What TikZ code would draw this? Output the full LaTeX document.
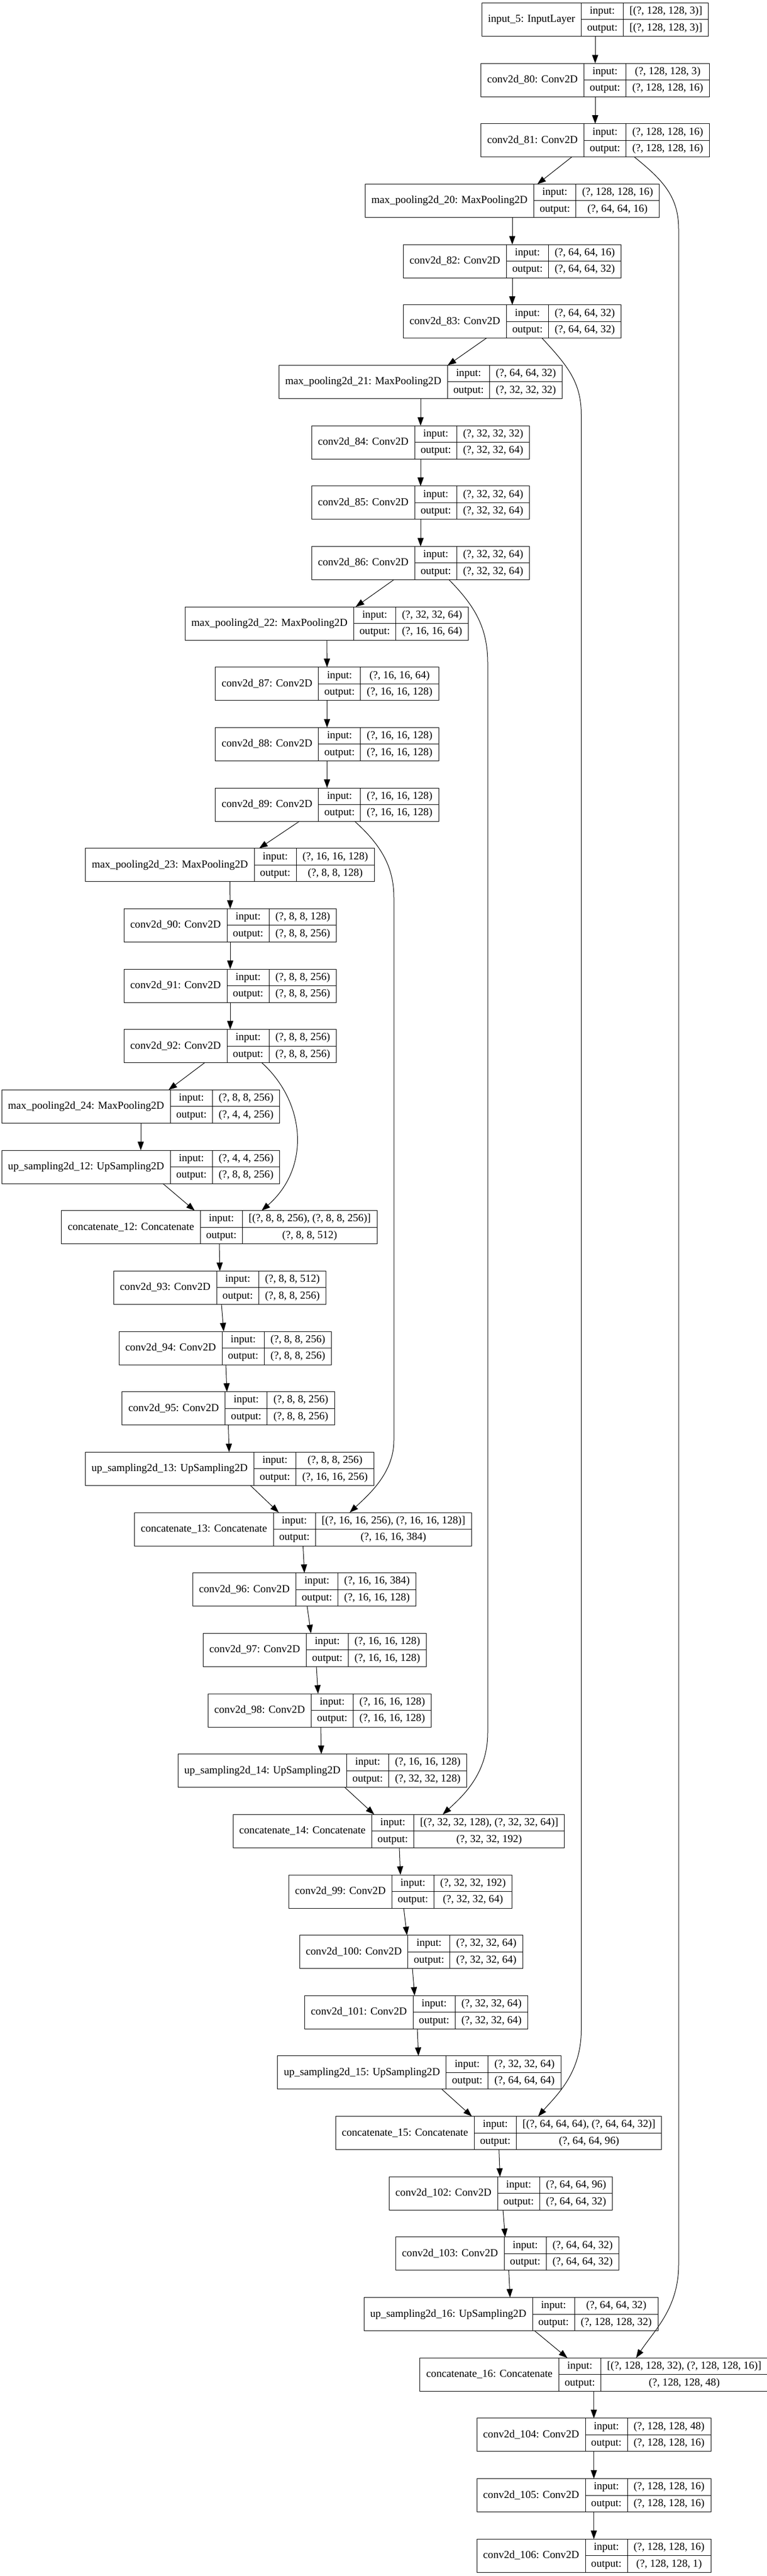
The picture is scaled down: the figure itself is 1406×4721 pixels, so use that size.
\documentclass[tikz,border=0pt]{standalone}
\usepackage{fontspec}
\setmainfont{Liberation Serif}
\usetikzlibrary{arrows.meta,calc,fit}

\newcommand{\layerfont}{\fontsize{9.83pt}{11pt}\selectfont}
\newlength{\wname}
\newlength{\wlab}
\newlength{\wval}
\newlength{\wtmp}
\newlength{\cellpad}
\setlength{\cellpad}{11.5pt}
\setlength{\wlab}{38.5pt}

\tikzset{
  cell/.style={draw, line width=0.5pt, inner sep=0pt, outer sep=0pt,
    font=\layerfont, text height=7pt, text depth=2pt, minimum height=15.25pt},
  namecell/.style={cell, minimum height=30.5pt},
  edge/.style={line width=0.5pt, -{Triangle[length=7.8pt,width=5.6pt]}}
}

% one layer box: node name, centre x, rank, layer text, input shape, output shape
\newcommand{\layer}[6]{%
  \pgfinterruptpicture
    \settowidth{\wtmp}{\layerfont #4}\global\wname=\wtmp
    \settowidth{\wtmp}{\layerfont #5}\global\wval=\wtmp
    \settowidth{\wtmp}{\layerfont #6}\ifdim\wtmp>\wval\global\wval=\wtmp\fi
  \endpgfinterruptpicture
  \addtolength{\wname}{\cellpad}\addtolength{\wval}{\cellpad}%
  \setlength{\wtmp}{\wname}\addtolength{\wtmp}{\wlab}\addtolength{\wtmp}{\wval}%
  \setlength{\wtmp}{-0.5\wtmp}%
  \node[namecell, minimum width=\wname, anchor=west] (#1-n) at ([xshift=\wtmp]#2,{36+110.66*#3}) {#4};
  \node[cell, minimum width=\wlab, anchor=north west] (#1-li) at (#1-n.north east) {input:};
  \node[cell, minimum width=\wlab, anchor=north west] (#1-lo) at (#1-li.south west) {output:};
  \node[cell, minimum width=\wval, anchor=north west] (#1-vi) at (#1-li.north east) {#5};
  \node[cell, minimum width=\wval, anchor=north west] (#1-vo) at (#1-vi.south west) {#6};
  \node[fit=(#1-n)(#1-vo), inner sep=0pt, outer sep=0pt] (#1) {};
}

\begin{document}
\begin{tikzpicture}[x=0.5pt, y=-0.5pt]
\useasboundingbox (0,0) rectangle (1406,4721);

% encoder
\layer{in}{1091}{0}{input\_5: InputLayer}{[(?, 128, 128, 3)]}{[(?, 128, 128, 3)]}
\layer{c80}{1091}{1}{conv2d\_80: Conv2D}{(?, 128, 128, 3)}{(?, 128, 128, 16)}
\layer{c81}{1091}{2}{conv2d\_81: Conv2D}{(?, 128, 128, 16)}{(?, 128, 128, 16)}
\layer{mp20}{939}{3}{max\_pooling2d\_20: MaxPooling2D}{(?, 128, 128, 16)}{(?, 64, 64, 16)}
\layer{c82}{939}{4}{conv2d\_82: Conv2D}{(?, 64, 64, 16)}{(?, 64, 64, 32)}
\layer{c83}{939}{5}{conv2d\_83: Conv2D}{(?, 64, 64, 32)}{(?, 64, 64, 32)}
\layer{mp21}{771}{6}{max\_pooling2d\_21: MaxPooling2D}{(?, 64, 64, 32)}{(?, 32, 32, 32)}
\layer{c84}{771}{7}{conv2d\_84: Conv2D}{(?, 32, 32, 32)}{(?, 32, 32, 64)}
\layer{c85}{771}{8}{conv2d\_85: Conv2D}{(?, 32, 32, 64)}{(?, 32, 32, 64)}
\layer{c86}{771}{9}{conv2d\_86: Conv2D}{(?, 32, 32, 64)}{(?, 32, 32, 64)}
\layer{mp22}{599}{10}{max\_pooling2d\_22: MaxPooling2D}{(?, 32, 32, 64)}{(?, 16, 16, 64)}
\layer{c87}{599.5}{11}{conv2d\_87: Conv2D}{(?, 16, 16, 64)}{(?, 16, 16, 128)}
\layer{c88}{599.5}{12}{conv2d\_88: Conv2D}{(?, 16, 16, 128)}{(?, 16, 16, 128)}
\layer{c89}{599.5}{13}{conv2d\_89: Conv2D}{(?, 16, 16, 128)}{(?, 16, 16, 128)}
\layer{mp23}{421.5}{14}{max\_pooling2d\_23: MaxPooling2D}{(?, 16, 16, 128)}{(?, 8, 8, 128)}
\layer{c90}{422}{15}{conv2d\_90: Conv2D}{(?, 8, 8, 128)}{(?, 8, 8, 256)}
\layer{c91}{422}{16}{conv2d\_91: Conv2D}{(?, 8, 8, 256)}{(?, 8, 8, 256)}
\layer{c92}{422}{17}{conv2d\_92: Conv2D}{(?, 8, 8, 256)}{(?, 8, 8, 256)}
\layer{mp24}{258}{18}{max\_pooling2d\_24: MaxPooling2D}{(?, 8, 8, 256)}{(?, 4, 4, 256)}
% decoder
\layer{up12}{258}{19}{up\_sampling2d\_12: UpSampling2D}{(?, 4, 4, 256)}{(?, 8, 8, 256)}
\layer{cat12}{402}{20}{concatenate\_12: Concatenate}{[(?, 8, 8, 256), (?, 8, 8, 256)]}{(?, 8, 8, 512)}
\layer{c93}{403}{21}{conv2d\_93: Conv2D}{(?, 8, 8, 512)}{(?, 8, 8, 256)}
\layer{c94}{413}{22}{conv2d\_94: Conv2D}{(?, 8, 8, 256)}{(?, 8, 8, 256)}
\layer{c95}{418.5}{23}{conv2d\_95: Conv2D}{(?, 8, 8, 256)}{(?, 8, 8, 256)}
\layer{up13}{421}{24}{up\_sampling2d\_13: UpSampling2D}{(?, 8, 8, 256)}{(?, 16, 16, 256)}
\layer{cat13}{555.5}{25}{concatenate\_13: Concatenate}{[(?, 16, 16, 256), (?, 16, 16, 128)]}{(?, 16, 16, 384)}
\layer{c96}{558}{26}{conv2d\_96: Conv2D}{(?, 16, 16, 384)}{(?, 16, 16, 128)}
\layer{c97}{577}{27}{conv2d\_97: Conv2D}{(?, 16, 16, 128)}{(?, 16, 16, 128)}
\layer{c98}{586}{28}{conv2d\_98: Conv2D}{(?, 16, 16, 128)}{(?, 16, 16, 128)}
\layer{up14}{591}{29}{up\_sampling2d\_14: UpSampling2D}{(?, 16, 16, 128)}{(?, 32, 32, 128)}
\layer{cat14}{731}{30}{concatenate\_14: Concatenate}{[(?, 32, 32, 128), (?, 32, 32, 64)]}{(?, 32, 32, 192)}
\layer{c99}{734}{31}{conv2d\_99: Conv2D}{(?, 32, 32, 192)}{(?, 32, 32, 64)}
\layer{c100}{753.7}{32}{conv2d\_100: Conv2D}{(?, 32, 32, 64)}{(?, 32, 32, 64)}
\layer{c101}{763}{33}{conv2d\_101: Conv2D}{(?, 32, 32, 64)}{(?, 32, 32, 64)}
\layer{up15}{768.5}{34}{up\_sampling2d\_15: UpSampling2D}{(?, 32, 32, 64)}{(?, 64, 64, 64)}
\layer{cat15}{914}{35}{concatenate\_15: Concatenate}{[(?, 64, 64, 64), (?, 64, 64, 32)]}{(?, 64, 64, 96)}
\layer{c102}{918}{36}{conv2d\_102: Conv2D}{(?, 64, 64, 96)}{(?, 64, 64, 32)}
\layer{c103}{930}{37}{conv2d\_103: Conv2D}{(?, 64, 64, 32)}{(?, 64, 64, 32)}
\layer{up16}{936.6}{38}{up\_sampling2d\_16: UpSampling2D}{(?, 64, 64, 32)}{(?, 128, 128, 32)}
\layer{cat16}{1088.6}{39}{concatenate\_16: Concatenate}{[(?, 128, 128, 32), (?, 128, 128, 16)]}{(?, 128, 128, 48)}
\layer{c104}{1088.6}{40}{conv2d\_104: Conv2D}{(?, 128, 128, 48)}{(?, 128, 128, 16)}
\layer{c105}{1088.6}{41}{conv2d\_105: Conv2D}{(?, 128, 128, 16)}{(?, 128, 128, 16)}
\layer{c106}{1088.6}{42}{conv2d\_106: Conv2D}{(?, 128, 128, 16)}{(?, 128, 128, 1)}

% main chain
\draw[edge] (in.south) -- (c80.north);
\draw[edge] (c80.south) -- (c81.north);
\draw[edge] ($(c81.south)+(-43,0)$) -- ($(mp20.north)+(46,0)$);
\draw[edge] (mp20.south) -- (c82.north);
\draw[edge] (c82.south) -- (c83.north);
\draw[edge] ($(c83.south)+(-47.5,0)$) -- ($(mp21.north)+(49.6,0)$);
\draw[edge] (mp21.south) -- (c84.north);
\draw[edge] (c84.south) -- (c85.north);
\draw[edge] (c85.south) -- (c86.north);
\draw[edge] ($(c86.south)+(-49,0)$) -- ($(mp22.north)+(53,0)$);
\draw[edge] (mp22.south) -- (c87.north);
\draw[edge] (c87.south) -- (c88.north);
\draw[edge] (c88.south) -- (c89.north);
\draw[edge] ($(c89.south)+(-50.5,0)$) -- ($(mp23.north)+(53.5,0)$);
\draw[edge] (mp23.south) -- (c90.north);
\draw[edge] (c90.south) -- (c91.north);
\draw[edge] (c91.south) -- (c92.north);
\draw[edge] ($(c92.south)+(-47,0)$) -- ($(mp24.north)+(51,0)$);
\draw[edge] (mp24.south) -- (up12.north);
\draw[edge] ($(up12.south)+(40.5,0)$) -- ($(cat12.north)+(-45,0)$);
\draw[edge] (cat12.south) -- (c93.north);
\draw[edge] ($(c93.south)+(3,0)$) -- ($(c94.north)+(-3,0)$);
\draw[edge] ($(c94.south)+(1,0)$) -- ($(c95.north)+(-2.5,0)$);
\draw[edge] (c95.south) -- ($(up13.north)+(-1,0)$);
\draw[edge] ($(up13.south)+(38,0)$) -- ($(cat13.north)+(-44.5,0)$);
\draw[edge] (cat13.south) -- (c96.north);
\draw[edge] ($(c96.south)+(5,0)$) -- ($(c97.north)+(-7,0)$);
\draw[edge] ($(c97.south)+(3,0)$) -- ($(c98.north)+(-3,0)$);
\draw[edge] ($(c98.south)+(2,0)$) -- ($(up14.north)+(-2,0)$);
\draw[edge] ($(up14.south)+(41,0)$) -- ($(cat14.north)+(-45,0)$);
\draw[edge] ($(cat14.south)+(1,0)$) -- (c99.north);
\draw[edge] ($(c99.south)+(6,0)$) -- ($(c100.north)+(-7.7,0)$);
\draw[edge] ($(c100.south)+(2.3,0)$) -- ($(c101.north)+(-3,0)$);
\draw[edge] ($(c101.south)+(2,0)$) -- ($(up15.north)+(-1.5,0)$);
\draw[edge] ($(up15.south)+(41.5,0)$) -- ($(cat15.north)+(-49,0)$);
\draw[edge] ($(cat15.south)+(0.7,0)$) -- ($(c102.north)+(-1.5,0)$);
\draw[edge] ($(c102.south)+(4,0)$) -- ($(c103.north)+(-4,0)$);
\draw[edge] ($(c103.south)+(2.6,0)$) -- ($(up16.north)+(-1.6,0)$);
\draw[edge] ($(up16.south)+(43.4,0)$) -- ($(cat16.north)+(-48.6,0)$);
\draw[edge] (cat16.south) -- (c104.north);
\draw[edge] (c104.south) -- (c105.north);
\draw[edge] (c105.south) -- (c106.north);

% skip connections
\draw[edge] ($(c81.south)+(72,0)$) .. controls (1215,330) and (1244,360) .. (1244,420)
  -- (1244,4150) .. controls (1244,4230) and (1200,4270) .. ($(cat16.north)+(77.4,0)$);
\draw[edge] ($(c83.south)+(54.7,0)$) .. controls (1040,670) and (1065.5,700) .. (1065.5,760)
  -- (1065.5,3720) .. controls (1065.5,3800) and (1020,3840) .. ($(cat15.north)+(72.5,0)$);
\draw[edge] ($(c86.south)+(52,0)$) .. controls (870,1110) and (894,1150) .. (894,1215)
  -- (894,3175) .. controls (894,3250) and (850,3290) .. ($(cat14.north)+(80.6,0)$);
\draw[edge] ($(c89.south)+(50.5,0)$) .. controls (700,1550) and (722,1590) .. (722,1645)
  -- (722,2640) .. controls (722,2700) and (675,2740) .. ($(cat13.north)+(85.5,0)$);
\draw[edge] ($(c92.south)+(58,0)$) .. controls (560,2020) and (570,2140) .. ($(cat12.north)+(77.6,0)$);
\end{tikzpicture}
\end{document}
